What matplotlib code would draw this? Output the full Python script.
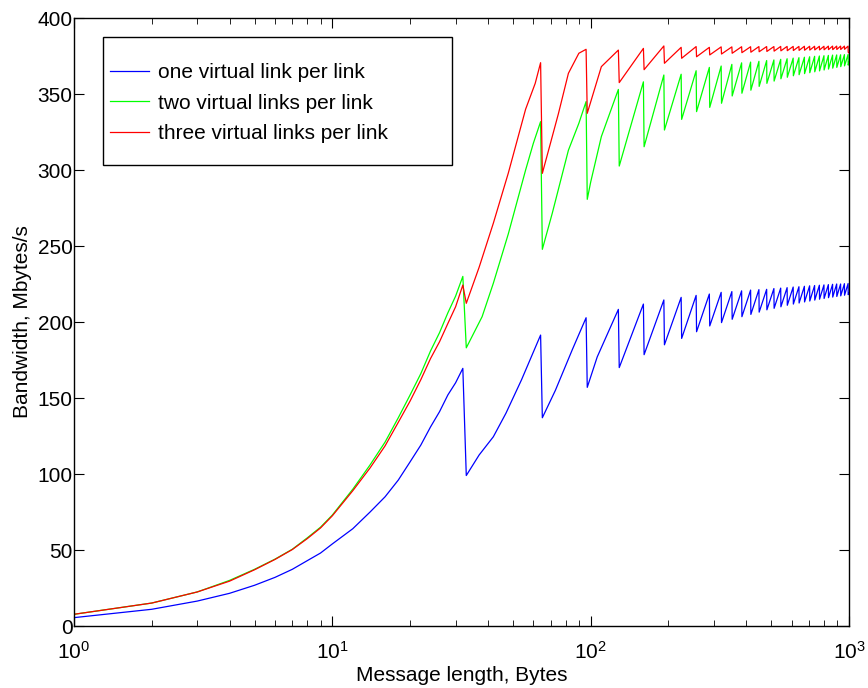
import numpy as np
import matplotlib
matplotlib.use("Agg")
import matplotlib.pyplot as plt
from matplotlib.patches import Rectangle

plt.rcParams['font.family'] = ['Liberation Sans', 'DejaVu Sans']
plt.rcParams['mathtext.default'] = 'regular'

# message lengths for the first rise (bytes)
x_rise = [1, 2, 3, 4, 5, 6, 7, 8, 9, 10, 12, 14, 16, 18, 20, 22, 24, 26, 28, 30, 32]
blue_rise = [5.5, 11, 16.4, 21.5, 26.8, 32, 37.3, 43, 48, 54, 64, 75, 85, 96, 108,
             119, 131, 141, 152, 160, 169.5]
green_rise = [7.7, 15.1, 22.4, 30, 37.3, 44, 50.5, 58, 65, 73, 90, 106, 121, 137, 152,
              166, 181, 193, 206, 217, 230]
red_rise = [7.7, 15.1, 22.4, 29.5, 37, 43.8, 50.3, 57.5, 64.5, 72.5, 89, 104, 118.5, 134,
            148, 162, 176, 187, 199, 210, 224.3]

# sawtooth: drop right after every multiple of 32 bytes
x_trough = list(range(33, 994, 32))
x_peak = list(range(64, 993, 32))
x_end = 1000

blue_trough = [99, 137, 157, 170, 178.5, 185, 189.2, 193.6, 197.4, 199.6, 201.8, 203.5,
               205, 206.5, 208, 209, 210, 211, 211.8, 212.5, 213.2, 213.8, 214.4, 215,
               215.5, 216, 216.4, 216.8, 217.2, 217.6, 218]
blue_peak = [191.4, 202.8, 208.3, 211.8, 214.5, 216.2, 217.5, 218.4, 219.5, 220, 220.5,
             221, 221.3, 221.5, 222, 222.3, 222.6, 223, 223.2, 223.5, 223.8, 224, 224.2,
             224.4, 224.6, 224.8, 225, 225, 225.2, 225.3]
blue_end = 219

green_trough = [183, 247.8, 280.7, 302.6, 315.3, 326.3, 333.3, 338.4, 341.2, 343.9, 348.7,
                350.5, 352.5, 355, 357, 358.5, 360, 361, 362, 362.7, 363.4, 364, 364.6,
                365.2, 365.8, 366.4, 367, 367.5, 368, 368.5, 369]
green_peak = [331.8, 345, 353, 358, 362.5, 363, 365.3, 367.5, 368.4, 369.5, 370.5, 371,
              371.5, 372, 372.4, 372.8, 373.2, 373.6, 373.9, 374.2, 374.5, 374.8, 375,
              375.2, 375.4, 375.6, 375.7, 375.8, 375.9, 376]
green_end = 371

red_trough = [212.3, 297.8, 337.3, 357.5, 366, 370.2, 373.5, 374.5, 375.7, 376.3, 376.8,
              377.2, 377.5, 377.8, 378, 378.2, 378.4, 378.5, 378.6, 378.7, 378.8, 378.9,
              379, 379, 379.1, 379.2, 379.2, 379.3, 379.3, 379.4, 377.5]
red_peak = [370.6, 379.4, 378.9, 380, 381.6, 380.7, 381.2, 380.7, 381, 381, 381.1, 381.1,
            381.2, 381.2, 381.2, 381.3, 381.3, 381.3, 381.3, 381.4, 381.4, 381.4, 381.4,
            381.4, 381.5, 381.5, 381.5, 381.5, 381.5, 381.5]
red_end = 377

# extra readings inside the first few teeth
blue_mid_x = [37, 42, 47, 54, 73, 85, 106]
blue_mid_y = [112.5, 124.5, 140, 162, 155, 182, 177]
green_mid_x = [38, 42, 48, 56, 60, 71, 82, 90, 100, 110]
green_mid_y = [203.5, 225.5, 258, 300, 317.6, 271.5, 313, 330.7, 292, 322]
red_mid_x = [37, 42, 48, 56, 61, 75, 82, 90, 110]
red_mid_y = [236, 265, 298, 340, 357, 337, 363.6, 376.8, 368]

labels = ['one virtual link per link', 'two virtual links per link',
          'three virtual links per link']
colors = ['#0000ff', '#00ff00', '#ff0000']


def build(rise, trough, peak, end, mid_x, mid_y):
    xs = x_rise + x_trough + x_peak + [x_end] + mid_x
    ys = rise + trough + peak + [end] + mid_y
    order = np.argsort(xs, kind='stable')
    return np.array(xs)[order], np.array(ys)[order]


series = [
    build(blue_rise, blue_trough, blue_peak, blue_end, blue_mid_x, blue_mid_y),
    build(green_rise, green_trough, green_peak, green_end, green_mid_x, green_mid_y),
    build(red_rise, red_trough, red_peak, red_end, red_mid_x, red_mid_y),
]

W, H = 868, 688
fs = 15
fig = plt.figure(figsize=(W / 100, H / 100), dpi=100)
ax = fig.add_axes([74 / W, 62 / H, 775 / W, 608 / H])

for (xs, ys), c, lab in zip(series, colors, labels):
    ax.plot(xs, ys, color=c, lw=0.9, label=lab)

ax.set_xscale('log')
ax.set_xlim(1, 1000)
ax.set_ylim(0, 400)
ax.set_yticks(np.arange(0, 401, 50))
ax.tick_params(which='both', direction='in', top=True, right=True, labelsize=fs)
ax.tick_params(which='major', length=7, width=0.8)
ax.tick_params(which='minor', length=4, width=0.6)
ax.tick_params(axis='y', pad=1)
ax.tick_params(axis='x', pad=11)
for sp in ax.spines.values():
    sp.set_linewidth(1.0)

ax.set_xlabel('Message length, Bytes', fontsize=fs, labelpad=2)
ax.set_ylabel('Bandwidth, Mbytes/s', fontsize=fs, labelpad=4)

# MATLAB style legend box: wide padding on the right
box = Rectangle((103 / W, 1 - 165 / H), 349 / W, 128 / H, transform=fig.transFigure,
                facecolor='white', edgecolor='black', lw=1.0, zorder=4)
fig.add_artist(box)
leg = ax.legend(loc='upper left', bbox_to_anchor=(110 / W, 1 - 63 / H),
                bbox_transform=fig.transFigure, frameon=False, fontsize=fs,
                borderpad=0, borderaxespad=0, handlelength=1.85, handletextpad=0.45,
                labelspacing=0.56)
leg.set_zorder(5)
fig.add_artist(leg)

fig.savefig('out.png', dpi=100)
